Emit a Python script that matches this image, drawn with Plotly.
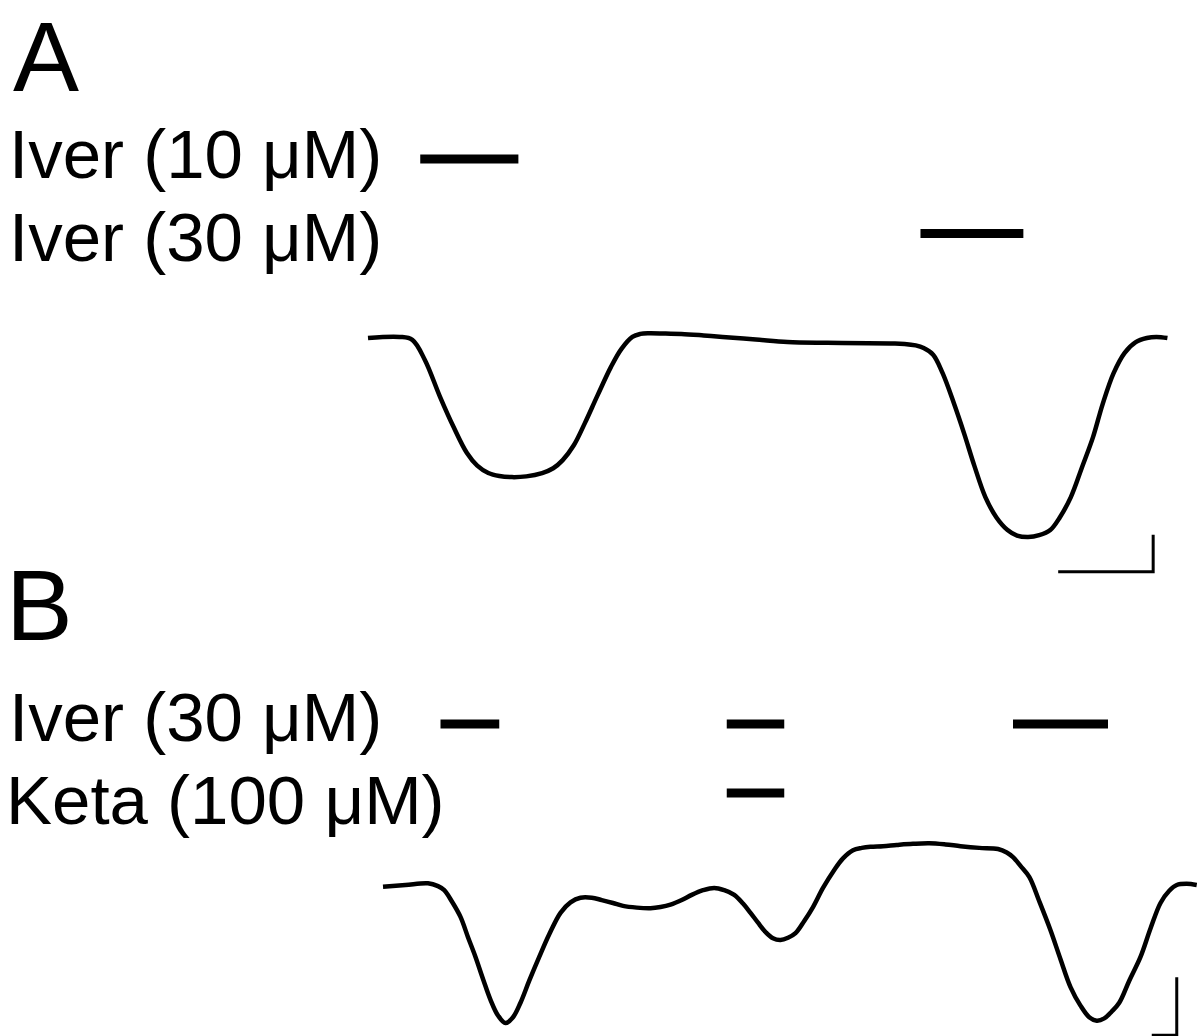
import plotly.graph_objects as go

W, H = 1197, 1036

# ---------------- Data ----------------
# Panel A: membrane current trace (time in s, current in pA)
time_a = [0, 20, 28, 36, 45.5, 54, 62.5, 69, 76, 83, 91, 100, 110, 117, 123, 130, 137, 145, 153.5, 160,
          167, 172, 177.5, 188, 198, 212, 224, 245, 265, 290, 316, 330, 339, 346, 351, 357, 363, 370, 376.5, 383,
          390, 397, 404, 410, 417, 424, 431, 437, 444, 451, 458, 464, 471, 478, 485, 492, 498, 505]
current_a = [0, 3, -5, -60, -159, -240, -311, -345, -365, -373, -376, -374, -365, -352, -330, -290, -230, -155, -78, -30,
             3, 11, 13, 12, 11, 7, 3, -4, -11, -13, -14, -15, -16, -20, -27, -45, -95, -175, -257, -345,
             -430, -485, -519, -534, -538, -533, -519, -485, -430, -350, -268, -180, -95, -40, -11, 0, 3, 0]

# Panel B: membrane current trace (time in s, current in pA)
time_b = [0, 18, 36, 44, 49, 55, 62, 68, 74, 80, 86, 92, 98, 104, 110, 117, 125, 133, 142, 150,
          158, 167, 175, 184, 192, 203, 214, 222, 230, 239, 247, 256, 265, 273, 281, 288, 294, 300, 306, 312,
          318, 324, 330, 337, 344, 352, 361, 368, 376, 383, 390, 400, 411, 424, 437, 450, 462, 477, 492, 499,
          504, 510, 517, 525, 534, 542, 550, 558, 565, 571, 577, 583, 589, 597, 606, 614, 622, 629, 635, 643, 651]
current_b = [-3, 0, 3, -2, -9, -28, -55, -90, -124, -162, -198, -225, -238, -228, -203, -165, -124, -85, -48, -30,
             -22, -22, -26, -31, -36, -39, -40, -38, -34, -26, -17, -9, -5, -9, -17, -32, -48, -65, -81, -92,
             -95, -91, -83, -62, -38, -5, 26, 46, 60, 64, 66, 67, 69, 71, 72, 70, 67, 64, 62, 56,
             48, 33, 14, -28, -78, -128, -176, -208, -228, -234, -230, -218, -203, -165, -124, -75, -31, -10, 0, 2, 0]

# Drug application periods (s)
a_labels = ["Iver (10 μM)", "Iver (30 μM)"]
a_periods = [[(33, 95)], [(349, 414)]]
b_labels = ["Iver (30 μM)", "Keta (100 μM)"]
b_periods = [[(46, 93), (275, 321), (504, 580)], [(275, 321)]]

# Scale bars: (seconds, pA)
a_scale = (60, 100)
b_scale = (20, 100)

# ---------------- Layout mapping (pixel geometry) ----------------
A_X0, A_KX, A_BASE, A_KY = 368, 1.583, 338, 0.37
B_X0, B_KX, B_BASE, B_KY = 383, 1.25, 885, 0.58
a_rows_px = [159, 233.5]
b_rows_px = [724, 793]
a_scale_corner = (496, -632)
b_scale_corner = (635, -259)


def xrange(x0, kx):
    return [-x0 / kx, (W - x0) / kx]


def yrange(base, ky):
    return [-(H - base) / ky, base / ky]


def row_val(py, base, ky):
    return (base - py) / ky


fig = go.Figure()
black = "black"

# traces
fig.add_trace(go.Scatter(x=time_a, y=current_a, mode="lines", xaxis="x", yaxis="y",
                         line=dict(color=black, width=4.5, shape="spline", smoothing=1.0),
                         hoverinfo="skip", showlegend=False))
fig.add_trace(go.Scatter(x=time_b, y=current_b, mode="lines", xaxis="x2", yaxis="y2",
                         line=dict(color=black, width=4.5, shape="spline", smoothing=1.0),
                         hoverinfo="skip", showlegend=False))

# drug bars
for periods, py in zip(a_periods, a_rows_px):
    yv = row_val(py, A_BASE, A_KY)
    for s, e in periods:
        fig.add_trace(go.Scatter(x=[s, e], y=[yv, yv], mode="lines", xaxis="x", yaxis="y",
                                 line=dict(color=black, width=9), hoverinfo="skip", showlegend=False))
for periods, py in zip(b_periods, b_rows_px):
    yv = row_val(py, B_BASE, B_KY)
    for s, e in periods:
        fig.add_trace(go.Scatter(x=[s, e], y=[yv, yv], mode="lines", xaxis="x2", yaxis="y2",
                                 line=dict(color=black, width=9), hoverinfo="skip", showlegend=False))

# scale bars
cx, cy = a_scale_corner
fig.add_trace(go.Scatter(x=[cx - a_scale[0], cx, cx], y=[cy, cy, cy + a_scale[1]], mode="lines",
                         xaxis="x", yaxis="y", line=dict(color=black, width=3),
                         hoverinfo="skip", showlegend=False))
cx, cy = b_scale_corner
fig.add_trace(go.Scatter(x=[cx - b_scale[0], cx, cx], y=[cy, cy, cy + b_scale[1]], mode="lines",
                         xaxis="x2", yaxis="y2", line=dict(color=black, width=3),
                         hoverinfo="skip", showlegend=False))

font_family = "Liberation Sans, Arial, Helvetica, sans-serif"


def ann(text, x_px, y_px, size, yanchor="middle"):
    fig.add_annotation(text=text, xref="paper", yref="paper", x=x_px / W, y=1 - y_px / H,
                       xanchor="left", yanchor=yanchor, showarrow=False, borderpad=0,
                       font=dict(family=font_family, size=size, color=black))


ann("A", 12, 0, 99, yanchor="top")
ann("B", 5, 605, 100)
for lab, py in zip(a_labels, [154, 237.5]):
    ann(lab, 8, py, 69)
ann(b_labels[0], 8, 717, 69)
ann(b_labels[1], 5, 800, 69)

hidden = dict(visible=False, showgrid=False, zeroline=False, fixedrange=True)
fig.update_layout(
    width=W, height=H,
    margin=dict(l=0, r=0, t=0, b=0),
    paper_bgcolor="white", plot_bgcolor="white",
    showlegend=False,
    xaxis=dict(domain=[0, 1], range=xrange(A_X0, A_KX), **hidden),
    yaxis=dict(domain=[0, 1], range=yrange(A_BASE, A_KY), **hidden),
    xaxis2=dict(domain=[0, 1], range=xrange(B_X0, B_KX), overlaying="x", **hidden),
    yaxis2=dict(domain=[0, 1], range=yrange(B_BASE, B_KY), overlaying="y", **hidden),
)

fig.write_html("out.html", config={"displayModeBar": False},
               post_script="document.body.style.margin='0px';")
